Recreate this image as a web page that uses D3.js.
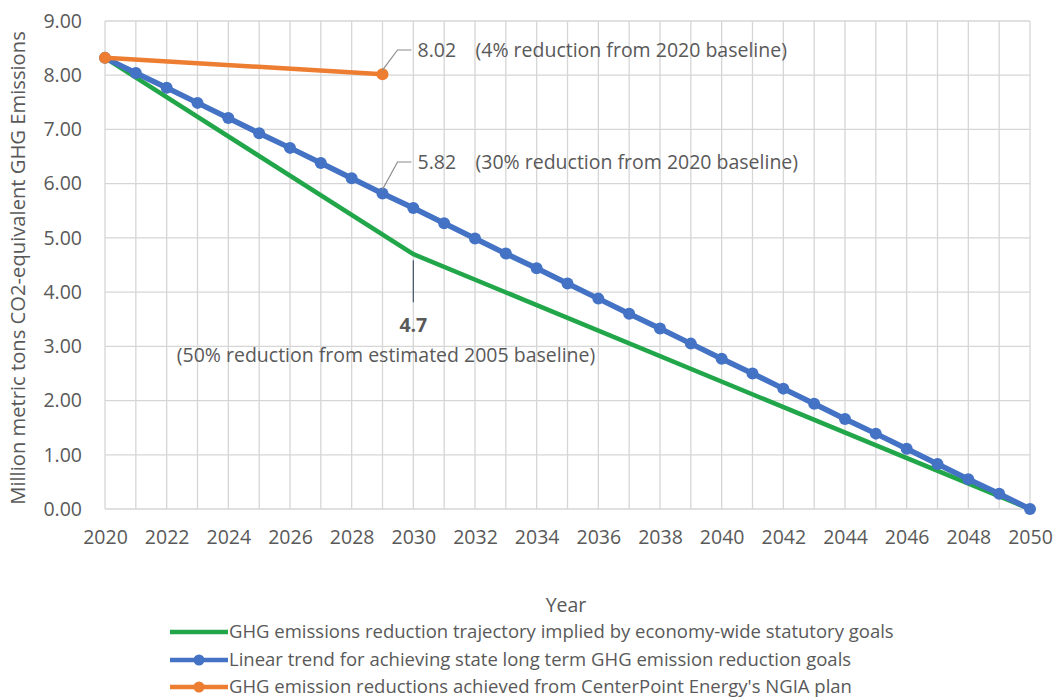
<!DOCTYPE html>
<html>
<head>
<meta charset="utf-8">
<script src="https://cdn.jsdelivr.net/npm/d3@7"></script>
<style>
  html, body { margin: 0; padding: 0; background: #fff; }
  svg { display: block; }
  text { font-family: "Open Sans", "Noto Sans", sans-serif; fill: #595959; }
</style>
</head>
<body>
<svg id="chart" width="1054" height="698"></svg>
<script>
// Years on the horizontal axis
const years = d3.range(2020, 2051);
const yearTicks = [2020, 2022, 2024, 2026, 2028, 2030, 2032, 2034, 2036, 2038, 2040,
                   2042, 2044, 2046, 2048, 2050];
const valueTicks = [0, 1, 2, 3, 4, 5, 6, 7, 8, 9];

// Statutory goal trajectory (million metric tons CO2e)
const statutoryYears = [2020, 2030, 2050];
const statutoryValues = [8.32, 4.7, 0.0];

// Linear trend to zero by 2050
const linearValues = [8.32, 8.04, 7.77, 7.49, 7.21, 6.93, 6.66, 6.38, 6.10, 5.82,
                      5.55, 5.27, 4.99, 4.71, 4.44, 4.16, 3.88, 3.60, 3.33, 3.05,
                      2.77, 2.50, 2.22, 1.94, 1.66, 1.39, 1.11, 0.83, 0.55, 0.28, 0.00];

// NGIA plan reductions
const ngiaYears = [2020, 2029];
const ngiaValues = [8.32, 8.02];

const seriesNames = [
  "GHG emissions reduction trajectory implied by economy-wide statutory goals",
  "Linear trend for achieving state long term GHG emission reduction goals",
  "GHG emission reductions achieved from CenterPoint Energy's NGIA plan"
];
const colors = { green: "#22a64a", blue: "#4472c4", orange: "#ed7d31" };

const svg = d3.select("#chart");
const plotLeft = 105, plotRight = 1030, plotTop = 21, plotBottom = 509;

const x = d3.scaleLinear().domain([2020, 2050]).range([plotLeft, plotRight]);
const y = d3.scaleLinear().domain([0, 9]).range([plotBottom, plotTop]);

// Gridlines
const grid = svg.append("g");
grid.selectAll("line.v").data(years).join("line").attr("class", "v")
  .attr("x1", d => x(d)).attr("x2", d => x(d))
  .attr("y1", plotTop).attr("y2", plotBottom)
  .attr("stroke", "#d6d6d6").attr("stroke-width", 1.3);
grid.selectAll("line.h").data(valueTicks).join("line").attr("class", "h")
  .attr("x1", plotLeft).attr("x2", plotRight)
  .attr("y1", d => y(d)).attr("y2", d => y(d))
  .attr("stroke", "#d6d6d6").attr("stroke-width", 1.3);

// Axes (tick text only)
const xAxis = svg.append("g").attr("transform", `translate(0,${plotBottom})`)
  .call(d3.axisBottom(x).tickValues(yearTicks).tickFormat(d3.format("d")).tickSize(0).tickPadding(21));
const yAxis = svg.append("g").attr("transform", `translate(${plotLeft},0)`)
  .call(d3.axisLeft(y).tickValues(valueTicks).tickFormat(d3.format(".2f")).tickSize(0).tickPadding(23));
[xAxis, yAxis].forEach(a => {
  a.select(".domain").remove();
  a.selectAll("text").style("font-size", "19.5px").attr("fill", "#595959");
});

// Axis titles
svg.append("text").attr("x", 566).attr("y", 612).attr("text-anchor", "middle")
  .style("font-size", "19.5px").text("Year");
svg.append("text").attr("transform", "translate(25,268) rotate(-90)")
  .attr("text-anchor", "middle").style("font-size", "20.2px")
  .text("Million metric tons CO2-equivalent GHG Emissions");

const line = d3.line().x(d => x(d[0])).y(d => y(d[1]));

// Statutory trajectory
svg.append("path")
  .datum(statutoryYears.map((yr, i) => [yr, statutoryValues[i]]))
  .attr("d", line).attr("fill", "none")
  .attr("stroke", colors.green).attr("stroke-width", 4.5).attr("stroke-linejoin", "round");

// Linear trend
const linearPts = years.map((yr, i) => [yr, linearValues[i]]);
svg.append("path").datum(linearPts).attr("d", line).attr("fill", "none")
  .attr("stroke", colors.blue).attr("stroke-width", 5.5).attr("stroke-linejoin", "round");
svg.append("g").selectAll("circle").data(linearPts).join("circle")
  .attr("cx", d => x(d[0])).attr("cy", d => y(d[1])).attr("r", 6)
  .attr("fill", colors.blue);

// NGIA plan
const ngiaPts = ngiaYears.map((yr, i) => [yr, ngiaValues[i]]);
svg.append("path").datum(ngiaPts).attr("d", line).attr("fill", "none")
  .attr("stroke", colors.orange).attr("stroke-width", 4.5);
svg.append("g").selectAll("circle").data(ngiaPts).join("circle")
  .attr("cx", d => x(d[0])).attr("cy", d => y(d[1])).attr("r", 6)
  .attr("fill", colors.orange);

// Data callouts
function callout(px, py, label, note, ly) {
  svg.append("path")
    .attr("d", `M${px},${py - 4} L${px + 15},${ly} L${px + 29},${ly}`)
    .attr("fill", "none").attr("stroke", "#8c8c8c").attr("stroke-width", 1.2);
  svg.append("text").attr("x", px + 35).attr("y", ly + 7)
    .style("font-size", "19.5px").attr("fill", "#404040").text(label);
  svg.append("text").attr("x", px + 93).attr("y", ly + 7)
    .style("font-size", "19.5px").attr("fill", "#595959").text(note);
}
const ngiaLast = ngiaPts[ngiaPts.length - 1];
callout(x(ngiaLast[0]), y(ngiaLast[1]), ngiaLast[1].toFixed(2),
        "(4% reduction from 2020 baseline)", 50);
const linear2029 = linearPts[years.indexOf(2029)];
callout(x(linear2029[0]), y(linear2029[1]), linear2029[1].toFixed(2),
        "(30% reduction from 2020 baseline)", 162);

// 2030 statutory callout
const s2030 = statutoryValues[statutoryYears.indexOf(2030)];
svg.append("line")
  .attr("x1", x(2030)).attr("x2", x(2030))
  .attr("y1", y(s2030) + 6).attr("y2", y(s2030) + 48)
  .attr("stroke", "#44546a").attr("stroke-width", 1.2);
svg.append("text").attr("x", x(2030)).attr("y", 332).attr("text-anchor", "middle")
  .style("font-size", "19.5px").style("font-weight", "bold").attr("fill", "#404040")
  .text(String(s2030));
svg.append("text").attr("x", 386).attr("y", 362).attr("text-anchor", "middle")
  .style("font-size", "19.5px").text("(50% reduction from estimated 2005 baseline)");

// Legend
const legend = svg.append("g");
const legendRows = [
  { name: seriesNames[0], color: colors.green, marker: false, y: 632 },
  { name: seriesNames[1], color: colors.blue, marker: true, y: 660 },
  { name: seriesNames[2], color: colors.orange, marker: true, y: 687 }
];
legendRows.forEach(r => {
  legend.append("line").attr("x1", 170).attr("x2", 228).attr("y1", r.y).attr("y2", r.y)
    .attr("stroke", r.color).attr("stroke-width", 4.5);
  if (r.marker) {
    legend.append("circle").attr("cx", 199).attr("cy", r.y).attr("r", 5.5).attr("fill", r.color);
  }
  legend.append("text").attr("x", 229).attr("y", r.y + 6)
    .style("font-size", "18.5px").attr("fill", "#404040").text(r.name);
});
</script>
</body>
</html>
